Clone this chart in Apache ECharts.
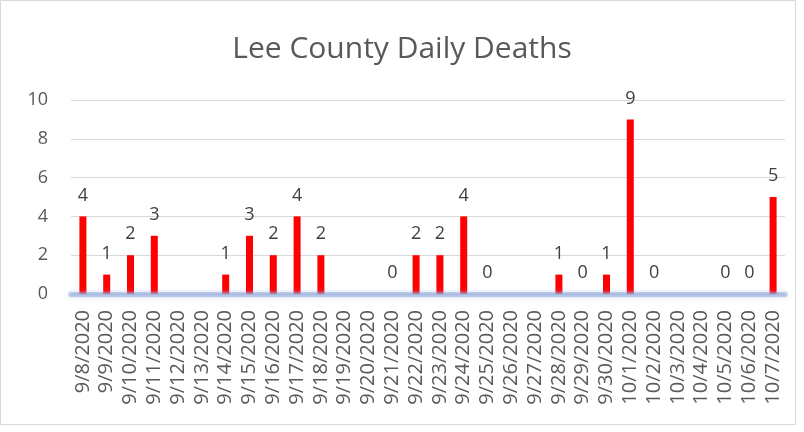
<!DOCTYPE html>
<html><head><meta charset="utf-8">
<script src="https://cdn.jsdelivr.net/npm/echarts@6/dist/echarts.min.js"></script>
<style>html,body{margin:0;padding:0;background:#fff}#c{width:804px;height:432px}</style>
</head><body><div id="c"></div>
<script>
const title = 'Lee County Daily Deaths';
const categories = ['9/8/2020','9/9/2020','9/10/2020','9/11/2020','9/12/2020','9/13/2020','9/14/2020','9/15/2020','9/16/2020','9/17/2020','9/18/2020','9/19/2020','9/20/2020','9/21/2020','9/22/2020','9/23/2020','9/24/2020','9/25/2020','9/26/2020','9/27/2020','9/28/2020','9/29/2020','9/30/2020','10/1/2020','10/2/2020','10/3/2020','10/4/2020','10/5/2020','10/6/2020','10/7/2020'];
const deaths = [4,1,2,3,null,null,1,3,2,4,2,null,null,0,2,2,4,0,null,null,1,0,1,9,0,null,null,0,0,5];
const yTicks = {min:0, max:10, interval:2};

const FONT = 'Open Sans, Noto Sans, sans-serif';
const chart = echarts.init(document.getElementById('c'));
chart.setOption({
  animation:false,
  title:{text:title,left:'center',top:29,textStyle:{fontFamily:FONT,fontSize:30,fontWeight:'normal',color:'#595959'}},
  graphic:[{type:'rect',shape:{x:0.5,y:0.5,width:795,height:424},style:{fill:'none',stroke:'#d9d9d9',lineWidth:1},silent:true}],
  grid:{left:71,right:19,top:100,bottom:138,containLabel:false},
  xAxis:{type:'category',data:categories,z:3,
    axisLine:{show:true,lineStyle:{color:'rgba(143,170,220,0.55)',width:5,shadowBlur:5,shadowColor:'rgba(143,170,220,0.8)'}},
    axisTick:{show:false},
    axisLabel:{rotate:90,interval:0,margin:16,fontFamily:FONT,fontSize:20,color:'#595959'}},
  yAxis:{type:'value',min:yTicks.min,max:yTicks.max,interval:yTicks.interval,
    axisLine:{show:false},axisTick:{show:false},
    splitLine:{lineStyle:{color:'#d9d9d9',width:1}},
    axisLabel:{margin:23,fontFamily:FONT,fontSize:18,color:'#595959'}},
  series:[{type:'bar',data:deaths,barWidth:7,itemStyle:{color:'#ff0000'},
    label:{show:true,position:'top',distance:12,fontFamily:FONT,fontSize:18,color:'#404040'}}]
});
</script></body></html>
